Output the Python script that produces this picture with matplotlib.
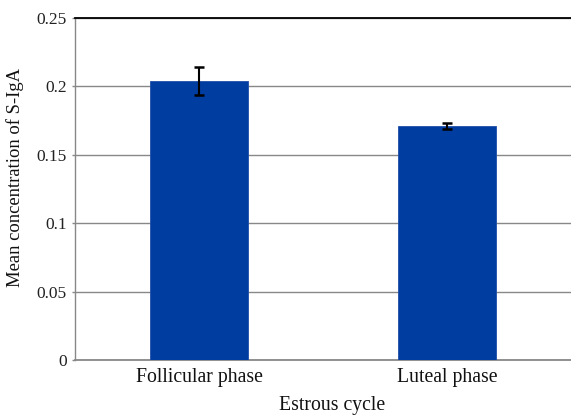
import matplotlib
matplotlib.use("Agg")
import matplotlib.pyplot as plt

categories = ["Follicular phase", "Luteal phase"]
means = [0.204, 0.171]
errors = [0.010, 0.0025]
yticks = [0, 0.05, 0.1, 0.15, 0.2, 0.25]
ytick_labels = ["0", "0.05", "0.1", "0.15", "0.2", "0.25"]

plt.rcParams['font.family'] = ['Liberation Serif', 'DejaVu Serif']

fig = plt.figure(figsize=(5.71, 4.15), dpi=100)
ax = fig.add_axes([75/571, 55/415, 496/571, 342/415])

x = list(range(len(categories)))
ax.bar(x, means, width=0.395, color="#003DA0", edgecolor="#1f4fa8", linewidth=0.6, zorder=3)
ax.errorbar(x, means, yerr=errors, fmt="none", ecolor="black", elinewidth=1.5,
            capsize=3.6, capthick=1.8, zorder=4)

ax.set_xlim(-0.5, 1.5)
ax.set_ylim(0, 0.25)
ax.set_yticks(yticks)
ax.set_yticklabels(ytick_labels, fontsize=12.5, color="#222222")
ax.set_xticks(x)
ax.set_xticklabels(categories, fontsize=14.2, color="#111111")
ax.tick_params(axis="x", length=0, pad=6)
ax.tick_params(axis="y", length=2, width=1, color="#888888", pad=4)

ax.yaxis.grid(True, color="#888888", linewidth=1, zorder=0)
ax.set_axisbelow(True)
ax.spines["right"].set_visible(False)
ax.spines["top"].set_color("black")
ax.spines["top"].set_linewidth(1.3)
ax.spines["left"].set_color("#888888")
ax.spines["bottom"].set_color("#888888")
ax.spines["left"].set_linewidth(1)
ax.spines["bottom"].set_linewidth(1.3)

fig.text(332/571, 1 - 405/415, "Estrous cycle", fontsize=14.2, ha="center", va="center", color="#111111")
fig.text(15/571, 1 - 177/415, "Mean concentration of S-IgA", fontsize=13.4, rotation=90,
         ha="center", va="center", color="#111111")

fig.savefig("out.png", dpi=100)
